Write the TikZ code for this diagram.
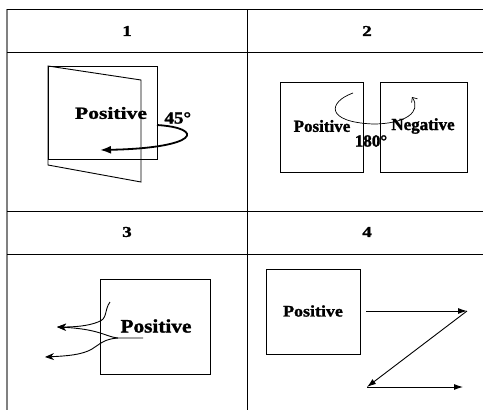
\documentclass[tikz,border=0pt]{standalone}
\usepackage{fontspec}
\setmainfont[BoldFeatures={FakeBold=1.5}]{Liberation Serif}
\newfontfamily\widefont[FakeStretch=1.27,BoldFeatures={FakeBold=1.5}]{Liberation Serif}
\newfontfamily\halfwidefont[FakeStretch=1.12,BoldFeatures={FakeBold=1.5}]{Liberation Serif}
\usepackage{tikz}
\usetikzlibrary{arrows.meta,positioning,calc}

\begin{document}
\begin{tikzpicture}[x=1pt,y=-1pt,line width=0.9pt,
  every node/.style={font=\bfseries,inner sep=0pt},
  grid/.style={draw=black,line width=0.9pt},
  cellhead/.style={font=\widefont\fontsize{15}{15}\selectfont\bfseries},
  lbl/.style={font=\fontsize{#1}{#1}\selectfont\bfseries},
  widelbl/.style={font=\widefont\fontsize{#1}{#1}\selectfont\bfseries},
  halflbl/.style={font=\halfwidefont\fontsize{#1}{#1}\selectfont\bfseries},
  thickarrow/.style={line width=1.8pt,-{Latex[length=11pt,width=8pt]}},
  thinarrow/.style={line width=0.9pt,-{Stealth[length=9pt,width=7pt]}}]
  \useasboundingbox (0,0) rectangle (483,410);
  % Table frame
  \draw[gray,line width=1.6pt] (7,9) -- (7,410);
  \draw[grid] (7,9) -- (483,9);
  \draw[grid] (7,52) -- (483,52);
  \draw[grid] (7,211) -- (483,211);
  \draw[grid] (7,254) -- (483,254);
  \draw[grid] (247,9) -- (247,410);
  % Header numbers
  \node[cellhead] (h1) at (127,31) {1};
  \node[cellhead] (h2) at (367,31) {2};
  \node[cellhead] (h3) at (127,232) {3};
  \node[cellhead] (h4) at (367,232) {4};
  % Panel 1: turning page
  \draw (48,66) rectangle (157,159);
  \draw (48,66) -- (141,80) -- (141,182) -- (48,165) -- cycle;
  \node[widelbl=17] (pos1) at (111,113) {Positive};
  \node[halflbl=17,anchor=west] (deg45) at (164,118) {45°};
  \coordinate (a1s) at (157,125);
  \coordinate (a1e) at (100,150);
  \draw[thickarrow] (a1s) .. controls (205,128) and (200,148) .. (a1e);
  % Panel 2: flip
  \draw (280,82) rectangle (363,172);
  \draw (380,82) rectangle (467,172);
  \node[lbl=17] (pos2) at (322,126) {Positive};
  \node[lbl=17] (neg2) at (423,126) {Negative};
  \node[lbl=17] (deg180) at (371,141) {180°};
  \coordinate (a2s) at (353,93);
  \coordinate (a2m) at (373,124);
  \coordinate (a2e) at (412,97);
  \draw[line width=0.7pt,-{Straight Barb[length=4pt,width=7pt]}] (a2s) .. controls (328,102) and (325,122) .. (a2m)
    .. controls (405,124) and (422,112) .. (a2e);
  % Panel 3: spreading
  \draw (100,279) rectangle (210,374);
  \node[halflbl=19] (pos3) at (156,326) {Positive};
  \coordinate (t3) at (110,302);
  \coordinate (s3) at (143,338);
  \coordinate (f3) at (118,338);
  \coordinate (u3) at (57,327);
  \coordinate (l3) at (45,357);
  \draw[thinarrow] (t3) .. controls (104,310) and (108,319) .. (98,322)
    .. controls (88,326) and (75,327) .. (u3);
  \draw[thinarrow] (s3) -- (f3) .. controls (106,337) and (100,329) .. (u3);
  \draw[thinarrow] (f3) .. controls (104,339) and (100,344) .. (92,349)
    .. controls (82,355) and (66,356) .. (l3);
  % Panel 4: zigzag
  \draw (266,269) rectangle (360,354);
  \node[halflbl=16] (pos4) at (313,311) {Positive};
  \coordinate (z1) at (366,311);
  \coordinate (z2) at (467,311);
  \coordinate (z3) at (367,387);
  \coordinate (z4) at (463,387);
  \draw[thinarrow,-{Latex[length=9pt,width=6pt]}] (z1) -- (z2);
  \draw[thinarrow,-{Latex[length=9pt,width=6pt]}] (z2) -- (z3);
  \draw[thinarrow,-{Latex[length=9pt,width=6pt]}] (z3) -- (z4);
\end{tikzpicture}
\end{document}
